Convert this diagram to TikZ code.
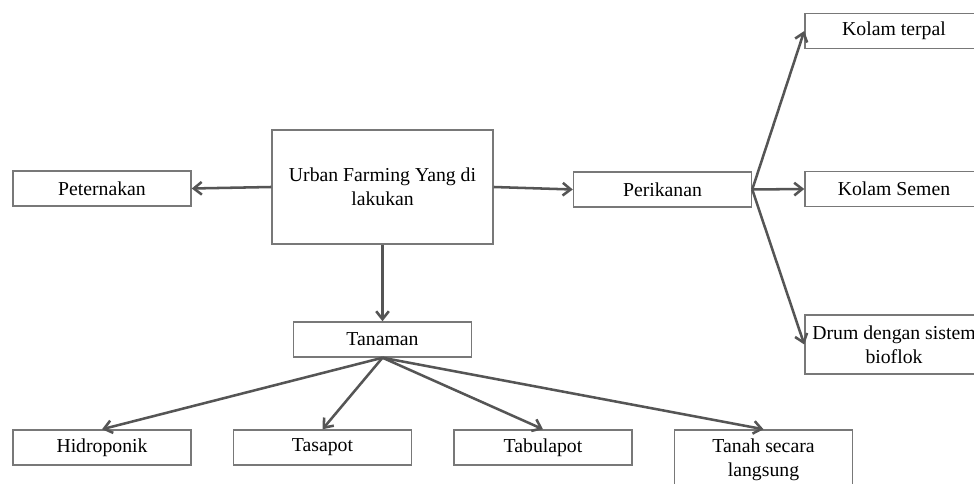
\documentclass[tikz,border=0pt]{standalone}
\usepackage{fontspec}
\setmainfont{Liberation Serif}
\usetikzlibrary{arrows.meta}
\definecolor{boxgray}{RGB}{120,120,120}
\definecolor{arrgray}{RGB}{85,85,85}
\begin{document}
\begin{tikzpicture}[x=0.75pt,y=-0.75pt,
  box/.style={draw=boxgray,line width=1.1pt,minimum width=133.5pt,minimum height=26.25pt,inner sep=0pt,align=center,font=\fontsize{14.8pt}{18pt}\selectfont},
  arr/.style={draw=arrgray,line width=1.9pt,-{Straight Barb[length=6pt,width=9.5pt]}}]
\useasboundingbox (0,0) rectangle (974,484);
\clip (0,0) rectangle (974,484);
\fill[white] (0,0) rectangle (974,484);
\node[box,minimum width=165.75pt,minimum height=85.5pt] (c) at (382.5,187) {Urban Farming Yang di\\lakukan};
\node[box] (pet) at (102,188.5) {Peternakan};
\node[box] (per) at (662.5,189.5) {Perikanan};
\node[box] (kt) at (894,31) {Kolam terpal};
\node[box] (ks) at (894,189) {Kolam Semen};
\node[box,minimum height=44.25pt] (dr) at (894,344.5) {Drum dengan sistem\\bioflok};
\node[box] (tan) at (382.5,339.5) {Tanaman};
\node[box] (hid) at (102,447.5) {Hidroponik};
\node[box] (tas) at (322.5,447.5) {Tasapot};
\node[box] (tab) at (543,447.5) {Tabulapot};
\node[box,minimum height=45pt] (tsl) at (763.5,460) {Tanah secara\\langsung};
\draw[arr] (c.west) -- (pet.east);
\draw[arr] (c.east) -- (per.west);
\draw[arr] (c.south) -- (tan.north);
\draw[arr] (per.east) -- (kt.west);
\draw[arr] (per.east) -- (ks.west);
\draw[arr] (per.east) -- (dr.west);
\draw[arr] (tan.south) -- (hid.north);
\draw[arr] (tan.south) -- (tas.north);
\draw[arr] (tan.south) -- (tab.north);
\draw[arr] (tan.south) -- (tsl.north);
\end{tikzpicture}
\end{document}
